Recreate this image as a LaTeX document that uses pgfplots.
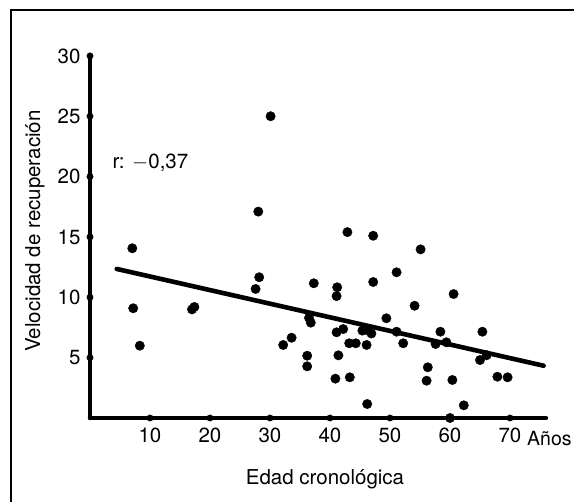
\documentclass[border=0pt]{standalone}
\usepackage{pgfplots}
\pgfplotsset{compat=1.18}
\usepackage{fontspec}
\setmainfont{TeX Gyre Heros}
\newcommand{\lbl}{\fontsize{20.5}{22}\selectfont}
\begin{document}
\begin{tikzpicture}
% 1pt = 1px of the reference; axis origin at (0,0)
\useasboundingbox (-90pt,-84pt) rectangle (484pt,418pt);
\draw[line width=1.6pt] (-79pt,-90pt) -- (-79pt,408pt) -- (490pt,408pt);
\begin{axis}[
    at={(0,0)}, anchor=origin,
    scale only axis,
    width=456pt, height=362.1pt,
    xmin=0, xmax=76, ymin=0, ymax=30,
    enlargelimits=false,
    axis lines=left,
    axis line style={-, line width=4.5pt, line cap=round},
    xtick={10,20,...,70},
    ytick={5,10,...,30},
    major tick length=0pt,
    tick label style={font=\lbl},
    xticklabel style={yshift=-6.5pt},
    yticklabel style={xshift=-6pt},
    /pgf/number format/assume math mode=true,
    clip=false,
]
% tick dots on the axes
\addplot[only marks, mark=*, mark size=3.2pt] coordinates {
    (10,0) (20,0) (30,0) (40,0) (50,0) (60,0) (70,0)
    (0,5) (0,10) (0,15) (0,20) (0,25) (0,30)
};
% observations
\addplot[only marks, mark=*, mark size=4.7pt, mark options={fill=black, draw=black}] coordinates {
    (7.05,14.06) (7.2,9.09) (8.3,5.99) (17.0,9.0) (17.4,9.2)
    (27.6,10.69) (28.2,11.66) (28.05,17.1) (30.1,25.0)
    (32.2,6.05) (33.6,6.65) (36.2,5.16) (36.2,4.28) (36.5,8.3) (36.8,7.9)
    (37.3,11.16) (40.9,3.26) (41.1,7.1) (41.1,10.1) (41.2,10.83) (41.4,5.19)
    (42.2,7.37) (42.9,15.4) (43.2,6.19) (43.3,3.37) (44.3,6.19)
    (45.4,7.24) (46.1,7.3) (46.9,7.0) (46.1,6.05) (46.2,1.16)
    (47.2,15.1) (47.2,11.27) (49.4,8.26) (51.1,12.07) (51.1,7.15) (52.2,6.19)
    (54.1,9.3) (55.1,13.97) (56.1,3.09) (56.3,4.2) (57.6,6.13) (58.4,7.15)
    (59.4,6.27) (60.0,0.0) (60.4,3.15) (60.6,10.27) (62.3,1.05)
    (65.0,4.8) (65.4,7.15) (66.1,5.2) (67.9,3.42) (69.6,3.37)
};
% regression line
\addplot[black, line width=4.6pt, line cap=round] coordinates {(4.45,12.35) (75.6,4.33)};
\end{axis}
\node[anchor=west, font=\lbl] at (19pt,255pt) {r: $-$0,37};
\node[font=\lbl] at (235pt,-61pt) {Edad cronológica};
\node[anchor=west, font=\fontsize{19.5}{21}\selectfont, inner sep=0pt] at (437pt,-21pt) {Años};
\node[rotate=90, font=\lbl] at (-55pt,187pt) {Velocidad de recuperación};
\end{tikzpicture}
\end{document}
